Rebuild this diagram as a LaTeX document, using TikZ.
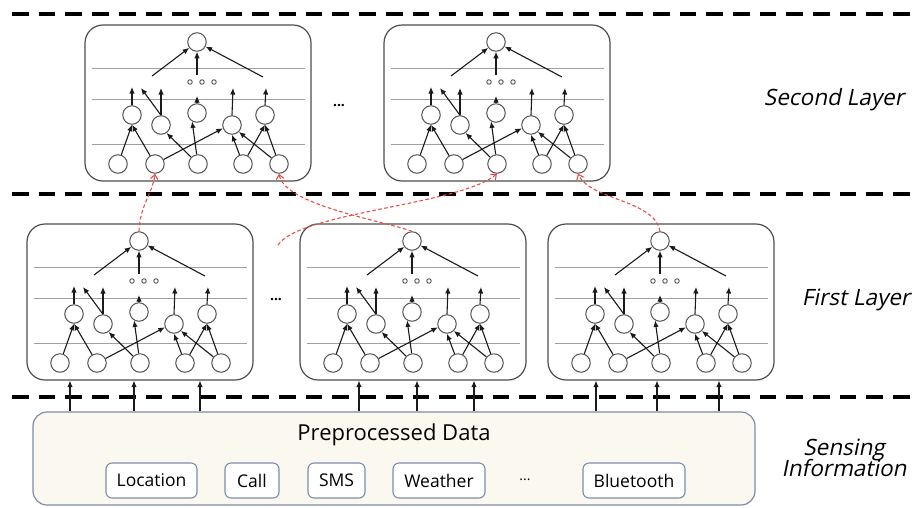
\documentclass[tikz,border=0pt]{standalone}
\usepackage{fontspec}
\setmainfont{Open Sans}
\newfontfamily\oblique[FakeSlant=0.2]{Open Sans}
\usetikzlibrary{arrows.meta}

\definecolor{boxedge}{HTML}{4D4D4D}
\definecolor{celledge}{HTML}{555555}
\definecolor{wire}{HTML}{1A1A1A}
\definecolor{rule}{HTML}{A0A0A0}
\definecolor{link}{HTML}{EC4A44}
\definecolor{datafill}{HTML}{FBF9EF}
\definecolor{dataedge}{HTML}{7D8CAB}

\tikzset{
  x=1pt, y=-1pt,
  netbox/.style={draw=boxedge, line width=1.2pt, rounded corners=18pt,
                 minimum width=226pt, minimum height=156pt, inner sep=0pt},
  neuron/.style={circle, draw=celledge, line width=1pt, fill=white,
                 minimum size=18.5pt, inner sep=0pt},
  tinydot/.style={circle, draw=celledge, line width=0.9pt, minimum size=4.5pt, inner sep=0pt},
  hline/.style={draw=rule, line width=0.9pt},
  arr/.style={draw=wire, line width=1.1pt, -{Latex[length=6.5pt,width=5.5pt]}},
  separator/.style={draw=black, line width=4pt, dash pattern=on 16.7pt off 10pt},
  redlink/.style={draw=link, line width=1.1pt, dash pattern=on 3.5pt off 2.5pt,
                  -{Straight Barb[length=4.5pt,width=7.5pt]}},
  tag/.style={draw=dataedge, line width=1.1pt, fill=white, rounded corners=6pt,
              minimum height=35pt, inner sep=0pt, font=\fontsize{17.5}{20}\selectfont},
  layerlabel/.style={font=\oblique\fontsize{22.5}{26}\selectfont, align=center},
  net/.pic={
    \node[netbox] (-box) at (113,78) {};
    \foreach \yy in {43,74,119} \draw[hline] (7,\yy) -- (220,\yy);
    % neurons
    \node[neuron] (-t)  at (112,17) {};
    \node[neuron] (-n1) at (47,90) {};
    \node[neuron] (-n2) at (76,100) {};
    \node[neuron] (-n3) at (112,88) {};
    \node[neuron] (-n4) at (147,100) {};
    \node[neuron] (-n5) at (180,90) {};
    \node[neuron] (-b1) at (33,139) {};
    \node[neuron] (-b2) at (70,139) {};
    \node[neuron] (-b3) at (113,139) {};
    \node[neuron] (-b4) at (158,139) {};
    \node[neuron] (-b5) at (194,139) {};
    % elided units
    \node[tinydot] (-d1) at (105,57) {};
    \node[tinydot] (-d2) at (117,57) {};
    \node[tinydot] (-d3) at (129,57) {};
    % loose ends of the hidden layers
    \coordinate (-a1) at (67,51);
    \coordinate (-a2) at (112,50);
    \coordinate (-a3) at (178,52);
    \coordinate (-u1) at (47,62);
    \coordinate (-u2) at (56,63);
    \coordinate (-u3) at (76,63);
    \coordinate (-u4) at (112,71);
    \coordinate (-u5) at (148,63);
    \coordinate (-u6) at (181,63);
    % into the output unit
    \draw[arr] (-a1) -- (-t);
    \draw[arr] (-a2) -- (-t);
    \draw[arr] (-a3) -- (-t);
    % out of the middle units
    \draw[arr] (-n1.north) -- (-u1);
    \draw[arr] (-n2.north) -- (-u2);
    \draw[arr] (-n2.north) -- (-u3);
    \draw[arr] (-n3.north) -- (-u4);
    \draw[arr] (-n4.north) -- (-u5);
    \draw[arr] (-n5.north) -- (-u6);
    % from the input units
    \draw[arr] (-b1) -- (-n1.south);
    \draw[arr] (-b2) -- (-n1.south);
    \draw[arr] (-b2) -- (-n4.200);
    \draw[arr] (-b3) -- (-n2.-55);
    \draw[arr] (-b3) -- (-n3.-120);
    \draw[arr] (-b4) -- (-n4.south);
    \draw[arr] (-b4) -- (-n5.south);
    \draw[arr] (-b5) -- (-n4.-45);
    \draw[arr] (-b5) -- (-n5.south);
  }
}

\begin{document}
\begin{tikzpicture}
  \useasboundingbox (0,0) rectangle (912,507);

  % layer separators
  \draw[separator] (12,14) -- (912,14);
  \draw[separator] (12,194) -- (912,194);
  \draw[separator] (12,397) -- (912,397);

  % second layer
  \pic (S1) at (85,25) {net};
  \pic (S2) at (384,25) {net};
  \node[font=\bfseries\fontsize{14}{16}\selectfont] (sdots) at (339,106) {...};

  % first layer
  \pic (F1) at (27,224) {net};
  \pic (F2) at (300,224) {net};
  \pic (F3) at (548,224) {net};
  \node[font=\bfseries\fontsize{14}{16}\selectfont] (fdots) at (276,300) {...};

  % sensing information
  \node[draw=dataedge, line width=1.2pt, fill=datafill, rounded corners=14pt,
        minimum width=722pt, minimum height=93pt, inner sep=0pt] (data) at (394,458.5) {};
  \node[font=\fontsize{22}{26}\selectfont] (pre) at (394,435) {Preprocessed Data};
  \node[tag, minimum width=91pt]  (loc)  at (151.5,480.5) {Location};
  \node[tag, minimum width=54pt]  (call) at (252,480.5) {Call};
  \node[tag, minimum width=57pt]  (sms)  at (336.5,480.5) {SMS};
  \node[tag, minimum width=92pt]  (wea)  at (439,480.5) {Weather};
  \node[font=\fontsize{14}{16}\selectfont] (tdots) at (525,480) {...};
  \node[tag, minimum width=102pt] (blue) at (634,480.5) {Bluetooth};

  % data fed into the first layer
  \foreach \xx in {70,134,200} \draw[arr] (data.north -| \xx,0) -- (F1-box.south -| \xx,0);
  \foreach \xx in {359,417,474} \draw[arr] (data.north -| \xx,0) -- (F2-box.south -| \xx,0);
  \foreach \xx in {596,657,719} \draw[arr] (data.north -| \xx,0) -- (F3-box.south -| \xx,0);

  % first-layer outputs feeding second-layer inputs
  \coordinate (loose) at (278,245);
  \draw[redlink] (F1-t.north) .. controls (140,205) and (152,195) .. (S1-b2.south);
  \draw[redlink] (F2-t.north) .. controls (380,220) and (285,205) .. (S1-b5.south);
  \draw[redlink] (loose) .. controls (300,212) and (460,205) .. (S2-b3.south);
  \draw[redlink] (F3-t.north) .. controls (655,200) and (590,200) .. (S2-b5.south);

  % layer names
  \node[layerlabel] (l2) at (834,100) {Second Layer};
  \node[layerlabel] (l1) at (856,300) {First Layer};
  \node[layerlabel] (l0) at (844,458) {Sensing\\[-5pt]Information};
\end{tikzpicture}
\end{document}
